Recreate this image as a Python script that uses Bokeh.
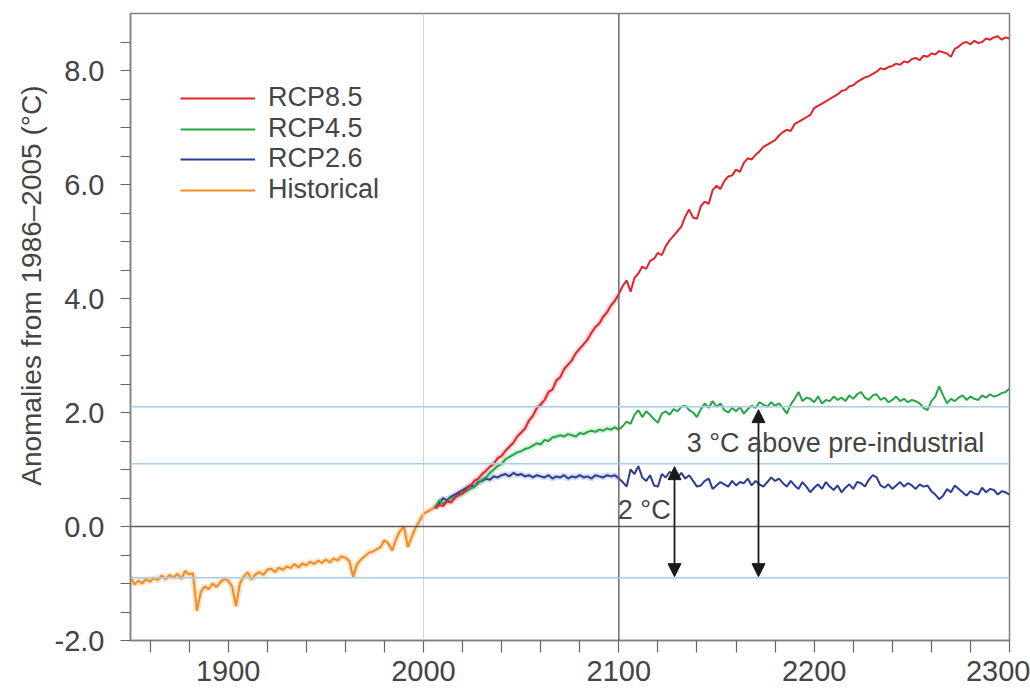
from bokeh.plotting import figure
from bokeh.models import (Span, Arrow, NormalHead, Label, Legend, LegendItem,
                          FixedTicker, NumeralTickFormatter, Title)
from bokeh.embed import file_html
from bokeh.resources import INLINE

# ---------------- data ----------------
hist_years = list(range(1850, 2007, 2))
hist_vals = [
    -0.88, -1.02, -0.95, -1.00, -0.92, -0.97, -0.90, -0.94, -0.86, -0.92,
    -0.85, -0.90, -0.83, -0.92, -0.78, -0.84, -0.82, -1.48, -1.15, -1.05,
    -1.10, -1.00, -1.06, -0.98, -0.92, -0.95, -1.05, -1.40, -1.00, -0.88,
    -0.80, -0.93, -0.84, -0.80, -0.85, -0.76, -0.74, -0.80, -0.72, -0.76,
    -0.70, -0.73, -0.66, -0.72, -0.65, -0.68, -0.62, -0.66, -0.60, -0.64,
    -0.58, -0.63, -0.56, -0.60, -0.52, -0.55, -0.60, -0.88, -0.66, -0.58,
    -0.52, -0.46, -0.44, -0.40, -0.36, -0.24, -0.30, -0.42, -0.22, -0.08,
    0.00, -0.36, -0.18, -0.02, 0.10, 0.22, 0.26, 0.30, 0.34,
]

rcp_years = list(range(2006, 2301, 2))
rcp85 = [
    0.33, 0.38, 0.36, 0.44, 0.42, 0.50, 0.56, 0.58, 0.66, 0.71,
    0.80, 0.84, 0.92, 0.98, 1.05, 1.10, 1.20, 1.24, 1.33, 1.40,
    1.47, 1.58, 1.65, 1.72, 1.86, 1.94, 2.08, 2.14, 2.22, 2.36,
    2.40, 2.56, 2.62, 2.76, 2.84, 2.92, 3.04, 3.12, 3.20, 3.28,
    3.40, 3.50, 3.56, 3.68, 3.76, 3.88, 3.96, 4.08, 4.22, 4.32,
    4.12, 4.36, 4.44, 4.56, 4.52, 4.66, 4.70, 4.80, 4.76, 4.92,
    5.02, 5.10, 5.18, 5.26, 5.44, 5.56, 5.42, 5.40, 5.62, 5.70,
    5.66, 5.90, 5.98, 5.92, 6.06, 6.14, 6.16, 6.26, 6.22, 6.38,
    6.46, 6.44, 6.52, 6.58, 6.66, 6.70, 6.74, 6.78, 6.86, 6.92,
    6.96, 6.94, 7.06, 7.10, 7.14, 7.18, 7.22, 7.34, 7.38, 7.42,
    7.46, 7.50, 7.54, 7.58, 7.64, 7.66, 7.72, 7.74, 7.80, 7.84,
    7.88, 7.90, 7.94, 7.98, 8.04, 8.02, 8.06, 8.08, 8.12, 8.10,
    8.16, 8.14, 8.20, 8.22, 8.18, 8.26, 8.24, 8.30, 8.28, 8.34,
    8.32, 8.30, 8.24, 8.38, 8.42, 8.48, 8.50, 8.46, 8.52, 8.48,
    8.50, 8.56, 8.54, 8.58, 8.60, 8.54, 8.58, 8.56,
]
rcp45 = [
    0.32, 0.46, 0.40, 0.44, 0.50, 0.52, 0.54, 0.58, 0.62, 0.66,
    0.70, 0.76, 0.82, 0.86, 0.94, 1.00, 1.06, 1.10, 1.18, 1.22,
    1.26, 1.30, 1.32, 1.36, 1.38, 1.42, 1.46, 1.44, 1.52, 1.50,
    1.56, 1.58, 1.60, 1.58, 1.62, 1.60, 1.58, 1.64, 1.62, 1.66,
    1.68, 1.66, 1.70, 1.68, 1.72, 1.70, 1.74, 1.70, 1.76, 1.84,
    1.80, 1.96, 2.04, 1.92, 2.02, 1.96, 1.88, 1.82, 1.98, 2.02,
    1.96, 2.06, 2.02, 2.10, 2.12, 2.04, 2.00, 1.92, 2.06, 2.16,
    2.08, 2.20, 2.10, 2.16, 2.04, 2.00, 2.08, 2.02, 2.10, 1.98,
    2.06, 2.12, 2.08, 2.18, 2.14, 2.10, 2.18, 2.12, 2.16, 2.08,
    1.98, 2.14, 2.24, 2.36, 2.20, 2.26, 2.24, 2.18, 2.28, 2.16,
    2.22, 2.20, 2.28, 2.22, 2.26, 2.20, 2.30, 2.24, 2.32, 2.36,
    2.26, 2.22, 2.30, 2.32, 2.22, 2.26, 2.18, 2.22, 2.28, 2.20,
    2.24, 2.18, 2.22, 2.20, 2.16, 2.08, 2.04, 2.20, 2.28, 2.46,
    2.30, 2.16, 2.24, 2.20, 2.26, 2.30, 2.22, 2.28, 2.24, 2.22,
    2.30, 2.26, 2.32, 2.28, 2.30, 2.34, 2.36, 2.42,
]
rcp26 = [
    0.32, 0.40, 0.50, 0.46, 0.52, 0.56, 0.60, 0.64, 0.68, 0.72,
    0.70, 0.78, 0.80, 0.84, 0.82, 0.88, 0.86, 0.90, 0.92, 0.88,
    0.94, 0.90, 0.92, 0.88, 0.90, 0.86, 0.90, 0.88, 0.86, 0.90,
    0.84, 0.88, 0.86, 0.90, 0.84, 0.88, 0.86, 0.90, 0.86, 0.88,
    0.84, 0.90, 0.88, 0.86, 0.90, 0.88, 0.90, 0.84, 0.78, 0.70,
    1.00, 0.92, 1.06, 0.86, 0.80, 0.90, 0.72, 0.70, 0.92, 0.86,
    0.96, 0.92, 0.86, 0.94, 0.84, 0.90, 0.80, 0.70, 0.72, 0.80,
    0.84, 0.66, 0.72, 0.78, 0.74, 0.70, 0.80, 0.72, 0.78, 0.76,
    0.84, 0.72, 0.80, 0.74, 0.70, 0.78, 0.86, 0.80, 0.84, 0.76,
    0.70, 0.80, 0.72, 0.66, 0.78, 0.70, 0.60, 0.68, 0.74, 0.66,
    0.78, 0.70, 0.64, 0.72, 0.60, 0.68, 0.74, 0.66, 0.78, 0.76,
    0.70, 0.82, 0.90, 0.86, 0.72, 0.68, 0.74, 0.66, 0.72, 0.78,
    0.70, 0.76, 0.72, 0.66, 0.74, 0.70, 0.72, 0.62, 0.56, 0.48,
    0.54, 0.66, 0.60, 0.72, 0.66, 0.60, 0.54, 0.62, 0.58, 0.56,
    0.68, 0.60, 0.66, 0.64, 0.56, 0.62, 0.60, 0.56,
]
series_names = ["RCP8.5", "RCP4.5", "RCP2.6", "Historical"]
y_ticks = [-2, 0, 2, 4, 6, 8]
y_minor = [-1.5, -1, -0.5, 0.5, 1, 1.5, 2.5, 3, 3.5, 4.5, 5, 5.5, 6.5, 7, 7.5, 8.5]
x_ticks = [1900, 2000, 2100, 2200, 2300]
x_minor = [1860, 1880, 1920, 1940, 1960, 1980, 2020, 2040, 2060, 2080,
           2120, 2140, 2160, 2180, 2220, 2240, 2260, 2280]
threshold_2c = 1.1
threshold_3c = 2.1
preindustrial = -0.9
proj_end = 2100

# ---------------- styling ----------------
FONT = "Liberation Sans"
TXT = "#444444"
RED, GREEN, BLUE, ORANGE = "#e4222b", "#26a547", "#2b3c97", "#f28c20"
REF_BLUE = "#a9cbe3"

p = figure(width=1030, height=694, x_range=(1850, 2300), y_range=(-2, 9),
           output_backend="svg", toolbar_location=None,
           min_border_left=130, min_border_right=21, min_border_top=13,
           min_border_bottom=54)
p.background_fill_color = "white"
p.border_fill_color = "white"
p.outline_line_color = "#808080"
p.outline_line_width = 1.5
p.xgrid.visible = False
p.ygrid.visible = False

for ax in (p.xaxis[0], p.yaxis[0]):
    ax.axis_line_color = "#808080"
    ax.axis_line_width = 1.5
    ax.major_tick_line_color = "#666666"
    ax.minor_tick_line_color = "#666666"
    ax.major_tick_line_width = 1.2
    ax.minor_tick_line_width = 1.2
    ax.major_tick_in = 0
    ax.minor_tick_in = 0
    ax.major_label_text_font = FONT
    ax.major_label_text_font_size = "29px"
    ax.major_label_text_color = TXT

p.yaxis.ticker = FixedTicker(ticks=y_ticks, minor_ticks=y_minor)
p.yaxis.formatter = NumeralTickFormatter(format="0.0")
p.yaxis.major_tick_out = 10
p.yaxis.minor_tick_out = 10
p.yaxis.major_label_standoff = 16
p.xaxis.ticker = FixedTicker(ticks=x_ticks, minor_ticks=x_minor)
p.xaxis.major_tick_out = 12
p.xaxis.minor_tick_out = 12
p.xaxis.major_label_standoff = 8

# y-axis title
p.add_layout(Title(text="Anomalies from 1986–2005 (°C)", align="right", offset=72,
                   standoff=10, text_font=FONT, text_font_size="28px",
                   text_font_style="normal", text_color=TXT), "left")

# reference lines
p.add_layout(Span(location=2000, dimension="height", line_color="#d4d4d4", line_width=1))
p.add_layout(Span(location=2100, dimension="height", line_color="#6a6a6a", line_width=1.5))
p.add_layout(Span(location=0, dimension="width", line_color="#5a5a5a", line_width=1.5))
for lvl in (threshold_3c, threshold_2c, preindustrial):
    p.add_layout(Span(location=lvl, dimension="width", line_color=REF_BLUE, line_width=1.5))

# faint ensemble spread
n_proj = rcp_years.index(proj_end) + 1
p.line(hist_years, hist_vals, line_color=ORANGE, line_width=6, line_alpha=0.25)
p.line(rcp_years[:n_proj], rcp26[:n_proj], line_color=BLUE, line_width=6, line_alpha=0.18)
p.line(rcp_years[:n_proj], rcp45[:n_proj], line_color=GREEN, line_width=6, line_alpha=0.18)
p.line(rcp_years[:n_proj], rcp85[:n_proj], line_color=RED, line_width=6, line_alpha=0.18)

# main lines
r_hist = p.line(hist_years, hist_vals, line_color=ORANGE, line_width=2)
r26 = p.line(rcp_years, rcp26, line_color=BLUE, line_width=2)
r45 = p.line(rcp_years, rcp45, line_color=GREEN, line_width=2)
r85 = p.line(rcp_years, rcp85, line_color=RED, line_width=2)

# legend: one entry per row, placed individually for tight row spacing
for name, rend, ybot in zip(series_names, (r85, r45, r26, r_hist), (527, 496, 466, 435)):
    lg = Legend(items=[LegendItem(label=name, renderers=[rend])], location=(50, ybot))
    lg.background_fill_alpha = 0
    lg.border_line_alpha = 0
    lg.padding = 0
    lg.margin = 0
    lg.glyph_width = 75
    lg.glyph_height = 28
    lg.label_height = 28
    lg.label_standoff = 13
    lg.label_text_font = FONT
    lg.label_text_font_size = "27px"
    lg.label_text_color = TXT
    p.add_layout(lg)

# arrows
for xa, ytop in ((2128.5, threshold_2c - 0.05), (2171.5, threshold_3c - 0.05)):
    p.add_layout(Arrow(x_start=xa, y_start=preindustrial + 0.02, x_end=xa, y_end=ytop,
                       line_color="#1a1a1a", line_width=1.8,
                       start=NormalHead(size=13, fill_color="#1a1a1a", line_color="#1a1a1a"),
                       end=NormalHead(size=13, fill_color="#1a1a1a", line_color="#1a1a1a")))

p.add_layout(Label(x=2099.5, y=0.29, text="2 °C", text_font=FONT, text_font_size="27px",
                   text_color=TXT, text_align="left", text_baseline="middle"))
p.add_layout(Label(x=2134.8, y=1.47, text="3 °C above pre-industrial", text_font=FONT,
                   text_font_size="27px", text_color=TXT, text_align="left",
                   text_baseline="middle"))

open("out.html", "w").write(file_html(p, INLINE))
